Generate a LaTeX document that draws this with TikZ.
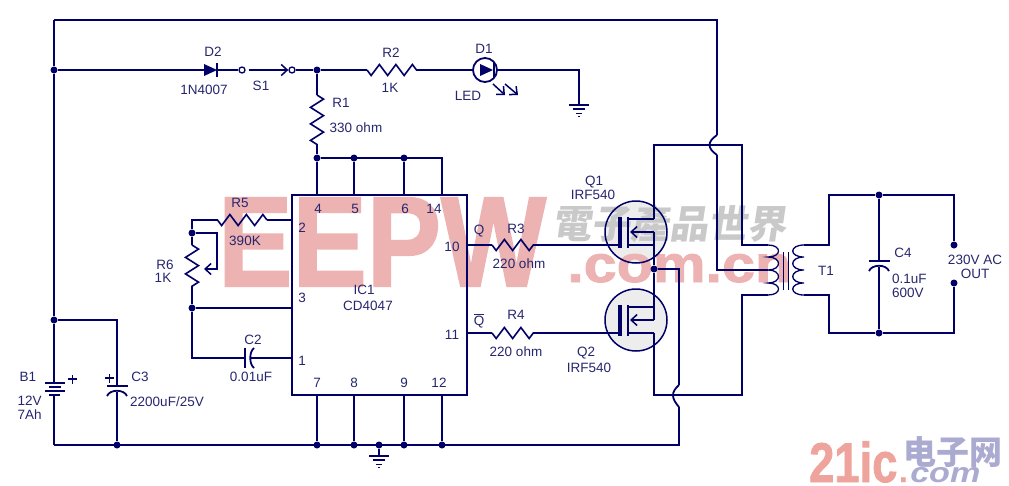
\documentclass[tikz,border=0pt]{standalone}
\usepackage{fontspec}
\setmainfont{Liberation Sans}
\newfontfamily\cjktc{Noto Sans CJK TC}
\newfontfamily\cjksc{Noto Sans CJK SC}
\newfontfamily\markfont[BoldFeatures={FakeBold=1.6}]{Liberation Sans}
\usepackage{tikz}
\usetikzlibrary{arrows.meta,decorations.pathmorphing,positioning}
\definecolor{navy}{HTML}{000066}
\definecolor{inktxt}{HTML}{26266E}
\definecolor{eepwpink}{HTML}{EDB2B2}
\definecolor{eepwgray}{HTML}{C9C9C9}
\definecolor{logopink}{HTML}{EEA49C}
\definecolor{logoblue}{HTML}{ABABD2}
\tikzset{
  wire/.style={draw=navy,line width=1.8pt,line join=miter},
  thin wire/.style={draw=navy,line width=1.3pt},
  dot/.style={circle,fill=navy,inner sep=0pt,minimum size=7pt},
  ring/.style={circle,draw=navy,line width=1.3pt,inner sep=0pt,minimum size=6pt},
  lbl/.style={text=inktxt,font=\fontsize{13.5}{13.5}\selectfont,inner sep=0pt,align=center},
  res/.style={wire,line width=1.6pt,decorate,decoration={zigzag,segment length=#1,amplitude=6.5pt}},
  res/.default=16.5pt,
  mres/.style={wire,line width=1.6pt,decorate,decoration={zigzag,mirror,segment length=16.5pt,amplitude=5.5pt}},
  barb/.style={-{Straight Barb[length=6pt,width=11pt,line width=1.5pt]}},
  gnd/.pic={
    \draw[thin wire] (-10,0) -- (10,0);
    \draw[thin wire] (-6,4) -- (6,4);
    \draw[thin wire,line width=1pt] (-3,8) -- (3,8);
    \draw[thin wire,line width=1pt] (-1,11) -- (1,11);
  },
  mosfet/.pic={
    \draw[thin wire,line width=1.5pt] (0,0) circle (31);
    \draw[wire,line width=4.5pt] (-16,-15) -- (-16,16);
    \draw[wire,line width=2.6pt] (-8,-15) -- (-8,16);
    \draw[wire] (-8,-13) -- (18,-13) coordinate (-d);
    \draw[wire] (-8,13) -- (18,13) coordinate (-s);
    \draw[wire,barb] (18,0) coordinate (-m) -- (-6,0);
    \coordinate (-g) at (-16,13);
  },
}
\begin{document}
\begin{tikzpicture}[x=1pt,y=-1pt]
  \useasboundingbox (0,0) rectangle (1009,485);

  % watermark
  \fill[gray!14] (636,232) circle (31);
  \fill[gray!14] (636,320) circle (31);
  \node[text=eepwpink,font=\fontsize{128}{128}\markfont\bfseries,xscale=.87,inner sep=0pt,anchor=base west] (w_eepw) at (218,286) {EEPW};
  \node[text=eepwpink,font=\fontsize{52}{52}\markfont\bfseries,xscale=1.14,inner sep=0pt,anchor=base west] (w_com) at (567,282) {.com.cn};
  \node[text=eepwgray,font=\fontsize{39}{39}\cjktc\bfseries,inner sep=0pt,xslant=.15,anchor=base west] (w_cn) at (552,238) {電子產品世界};
  \node[text=logopink,font=\fontsize{56}{56}\markfont\bfseries,xscale=.81,inner sep=0pt,anchor=base west] (w_ic) at (809,482) {21ic};
  \node[text=logoblue,font=\fontsize{33}{33}\cjksc\bfseries,inner sep=0pt,anchor=base west] (w_zh) at (903,464) {电子网};
  \node[text=logopink,font=\fontsize{30}{30}\markfont\bfseries,inner sep=0pt,anchor=base west] (w_dot) at (899,482) {.};
  \node[text=logoblue,font=\fontsize{28}{28}\selectfont\bfseries\itshape,xscale=1.22,inner sep=0pt,anchor=base west] (w_net) at (910,482) {com};

  % rails and junctions
  \coordinate (tl) at (54,20);
  \coordinate (tr) at (717,20);
  \coordinate (bl) at (54,445);
  \coordinate (br) at (679,445);
  \node[dot] (n_in) at (54,70) {};
  \node[dot] (n_c3) at (54,320) {};
  \node[dot] (n_r1) at (317,70) {};
  \node[dot] (n_vdd) at (317,158) {};
  \node[dot] (n_5) at (354,158) {};
  \node[dot] (n_6) at (404,158) {};
  \coordinate (n_14) at (442,158);
  \node[dot] (n_7) at (317,445) {};
  \node[dot] (n_8) at (354,445) {};
  \node[dot] (n_9) at (404,445) {};
  \node[dot] (n_12) at (442,445) {};
  \node[dot] (n_g) at (379,445) {};
  \node[dot] (n_c3b) at (117,445) {};
  \node[dot] (n_r6) at (192,233) {};
  \node[dot] (n_3) at (192,308) {};
  \node[dot] (n_mid) at (654,269) {};
  \node[dot] (n_c4t) at (879,195) {};
  \node[dot] (n_c4b) at (879,333) {};
  \node[dot] (n_ot) at (954,245) {};
  \node[dot] (n_ob) at (954,283) {};

  % IC1
  \node[draw=navy,line width=1.8pt,minimum width=175pt,minimum height=200pt,inner sep=0pt] (ic_1) at (379.5,295) {};
  \coordinate (p_2) at (ic_1.west |- 0,220);
  \coordinate (p_1) at (ic_1.west |- 0,358);
  \coordinate (p_3) at (ic_1.west |- n_3);
  \coordinate (p_10) at (ic_1.east |- 0,245);
  \coordinate (p_11) at (ic_1.east |- 0,333);

  % D2 and S1
  \node[ring] (s_a) at (242,70) {};
  \node[ring] (s_b) at (292,70) {};
  \coordinate (d2_a) at (204,70);
  \coordinate (d2_k) at (217,70);
  \path[wire] (n_in) -- (d2_a);
  \fill[navy] (d2_a) ++(0,-6) -- ++(13,6) -- ++(-13,6) -- cycle;
  \path[wire] (217,63) -- (217,77);
  \path[wire] (d2_k) -- (s_a);
  \draw[navy,line width=1.5pt,barb] (s_a.east) ++(3,0) -- (s_b.west);
  \path[wire] (s_b) -- (n_r1);

  % R2, D1 and the LED return
  \coordinate (r2_a) at (367,70);
  \coordinate (r2_b) at (418,70);
  \node[circle,draw=navy,line width=1.8pt,minimum size=24pt,inner sep=0pt] (d_1) at (485,70) {};
  \coordinate (gnd_a) at (579,105);
  \path[wire] (n_r1) -- (r2_a);
  \path[mres] (r2_a) -- (r2_b);
  \path[wire] (r2_b) -- (d_1);
  \fill[navy] (480,64) -- (493,70) -- (480,76) -- cycle;
  \path[wire] (494,62) -- (494,78);
  \path[wire] (d_1.east) -| (gnd_a);
  \pic at (gnd_a) {gnd};
  \draw[wire,barb,line width=1.5pt] (493,84) -- (505,95);
  \draw[wire,barb,line width=1.5pt] (505,84) -- (518,95);

  % R1 and the supply pins
  \coordinate (r1_a) at (317,95);
  \coordinate (r1_b) at (317,145);
  \path[wire] (n_r1) -- (r1_a);
  \path[res] (r1_a) -- (r1_b);
  \path[wire] (r1_b) -- (n_vdd) -- (n_vdd |- ic_1.north);
  \path[wire] (n_vdd) -- (n_14) -- (n_14 |- ic_1.north);
  \path[wire] (n_5) -- (n_5 |- ic_1.north);
  \path[wire] (n_6) -- (n_6 |- ic_1.north);

  % ground pins
  \path[wire] (n_7 |- ic_1.south) -- (n_7);
  \path[wire] (n_8 |- ic_1.south) -- (n_8);
  \path[wire] (n_9 |- ic_1.south) -- (n_9);
  \path[wire] (n_12 |- ic_1.south) -- (n_12);
  \coordinate (gnd_b) at (379,456);
  \path[wire] (n_g) -- (gnd_b);
  \pic at (gnd_b) {gnd};

  % timing network
  \coordinate (r5_a) at (217,220);
  \coordinate (r5_b) at (267,220);
  \coordinate (r6_a) at (192,245);
  \coordinate (r6_b) at (192,293);
  \coordinate (r6_w) at (217,269);
  \coordinate (c2_l) at (245,358);
  \coordinate (c2_r) at (249.5,358);
  \path[wire] (p_2) -- (r5_b);
  \path[mres] (r5_b) -- (r5_a);
  \path[wire] (r5_a) -| (n_r6);
  \path[wire] (n_r6) -- (r6_a);
  \path[res] (r6_a) -- (r6_b);
  \path[wire] (r6_b) -- (n_3) -- (p_3);
  \path[wire] (n_3) |- (c2_l);
  \path[wire] (c2_l |- 0,348) -- (c2_l |- 0,368);
  \path[wire] (254,348) .. controls (249,352) and (249,364) .. (254,368);
  \path[wire] (c2_r) -- (p_1);
  \draw[wire,barb] (n_r6) -| (r6_w) -- (204,269);

  % outputs and Q1, Q2
  \pic (q_1) at (636,232) {mosfet};
  \pic (q_2) at (636,320) {mosfet};
  \coordinate (r3_a) at (492,245);
  \coordinate (r3_b) at (541,245);
  \coordinate (r4_a) at (492,333);
  \coordinate (r4_b) at (541,333);
  \path[wire] (p_10) -- (r3_a);
  \path[mres] (r3_a) -- (r3_b);
  \path[wire] (r3_b) -- (q_1-g);
  \path[wire] (p_11) -- (r4_a);
  \path[mres] (r4_a) -- (r4_b);
  \path[wire] (r4_b) -- (q_2-g);

  % switching loop and transformer
  \coordinate (lp_tl) at (654,145);
  \coordinate (lp_tr) at (742,145);
  \coordinate (lp_bl) at (654,395);
  \coordinate (lp_br) at (742,395);
  \coordinate (t_pa) at (768,245);
  \coordinate (t_pc) at (768,270);
  \coordinate (t_pb) at (768,295);
  \coordinate (t_sa) at (804,245);
  \coordinate (t_sb) at (804,295);
  \coordinate (hop_a) at (717,135);
  \coordinate (hop_b) at (717,155);
  \coordinate (hop_c) at (679,385);
  \coordinate (hop_d) at (679,407);
  \path[wire] (q_1-d) -- (lp_tl) -- (lp_tr) -- (lp_tr |- t_pa) -- (t_pa);
  \path[wire] (q_1-m) -- (q_1-s) -- (n_mid) -- (q_2-d);
  \path[wire] (q_2-d) -- (q_2-m);
  \path[wire] (q_2-s) -- (lp_bl) -- (lp_br) -- (lp_br |- t_pb) -- (t_pb);
  \path[wire] (n_mid) -| (hop_c);
  \path[wire] (hop_c) .. controls (671,392) and (671,398) .. (hop_d);
  \path[wire] (hop_d) -- (br) -- (bl);
  \path[wire] (tl) -- (tr) -- (hop_a);
  \path[wire] (hop_a) .. controls (707,142) and (707,148) .. (hop_b);
  \path[wire] (hop_b) |- (t_pc);

  \draw[thin wire] (t_pa) .. controls (782,245) and (782,257) .. (768,257)
    .. controls (782,257) and (782,270) .. (t_pc)
    .. controls (782,270) and (782,283) .. (768,283)
    .. controls (782,283) and (782,295) .. (t_pb);
  \draw[thin wire] (t_sa) .. controls (789,245) and (789,257) .. (804,257)
    .. controls (789,257) and (789,270) .. (804,270)
    .. controls (789,270) and (789,283) .. (804,283)
    .. controls (789,283) and (789,295) .. (t_sb);
  \draw[navy,line width=1pt] (783,252) -- (783,290);
  \draw[navy,line width=1pt] (788,252) -- (788,290);

  % output side
  \coordinate (o_tl) at (829,195);
  \coordinate (o_bl) at (829,333);
  \coordinate (o_tr) at (954,195);
  \coordinate (o_br) at (954,333);
  \coordinate (c4_a) at (879,261);
  \coordinate (c4_b) at (879,267);
  \path[wire] (t_sa) -| (o_tl) -- (n_c4t) -- (o_tr) -- (n_ot);
  \path[wire] (t_sb) -| (o_bl) -- (n_c4b) -- (o_br) -- (n_ob);
  \path[wire] (n_c4t) -- (c4_a);
  \path[wire] (c4_b) -- (n_c4b);
  \path[wire] (869,261) -- (890,261);
  \path[wire] (869,271) .. controls (872,264) and (886,264) .. (889,271);

  % battery and C3
  \coordinate (b_a) at (54,383);
  \coordinate (b_b) at (54,395);
  \coordinate (c3_t) at (117,320);
  \coordinate (c3_a) at (117,386);
  \coordinate (c3_b) at (117,392);
  \path[wire] (tl) -- (n_in) -- (n_c3) -- (b_a);
  \path[wire] (b_b) -- (bl);
  \path[wire] (45,382.7) -- (65,382.7);
  \path[wire] (49,386.7) -- (61,386.7);
  \path[wire] (45,390.7) -- (65,390.7);
  \path[wire] (49,395) -- (60,395);
  \path[wire] (n_c3) -- (c3_t) -- (c3_a);
  \path[wire] (c3_b) -- (n_c3b);
  \path[wire] (107,386) -- (128,386);
  \path[wire] (107,396) .. controls (110,389) and (124,389) .. (127,396);
  \path[wire,line width=1.5pt] (68,379) -- (77,379) (72.5,375) -- (72.5,384);
  \path[wire,line width=1.5pt] (105,378) -- (114,378) (109.5,374) -- (109.5,383);

  % labels
  \node[lbl] (t_d2) at (213,52) {D2};
  \node[lbl] (t_d2v) at (204,90) {1N4007};
  \node[lbl] (t_s1) at (261,86) {S1};
  \node[lbl] (t_r1) at (341,103) {R1};
  \node[lbl] (t_r1v) at (356,128) {330 ohm};
  \node[lbl] (t_r2) at (391,53) {R2};
  \node[lbl] (t_r2v) at (390,88) {1K};
  \node[lbl] (t_d1) at (484,49) {D1};
  \node[lbl] (t_led) at (468,96) {LED};
  \node[lbl] (t_r5) at (240,203) {R5};
  \node[lbl] (t_r5v) at (245,241) {390K};
  \node[lbl] (t_r6) at (165,265) {R6};
  \node[lbl] (t_r6v) at (163,278) {1K};
  \node[lbl] (t_c2) at (253,340) {C2};
  \node[lbl] (t_c2v) at (251,377) {0.01uF};
  \node[lbl] (t_b1) at (28,377) {B1};
  \node[lbl,align=left,anchor=north west] (t_b1v) at (17.5,396) {12V\\[0pt]7Ah};
  \node[lbl] (t_c3) at (140,377) {C3};
  \node[lbl] (t_c3v) at (167,402) {2200uF/25V};
  \node[lbl] (t_ic) at (364,290) {IC1};
  \node[lbl] (t_icv) at (368,306) {CD4047};
  \node[lbl] (t_p4) at (318,209) {4};
  \node[lbl] (t_p5) at (355,209) {5};
  \node[lbl] (t_p6) at (405,209) {6};
  \node[lbl] (t_p14) at (434,209) {14};
  \node[lbl] (t_p2) at (302,228) {2};
  \node[lbl] (t_p3) at (302,298) {3};
  \node[lbl] (t_p1) at (302,361) {1};
  \node[lbl] (t_p7) at (317,383) {7};
  \node[lbl] (t_p8) at (354,383) {8};
  \node[lbl] (t_p9) at (404,383) {9};
  \node[lbl] (t_p12) at (439,383) {12};
  \node[lbl] (t_p10) at (452,247) {10};
  \node[lbl] (t_p11) at (452,335) {11};
  \node[lbl] (t_q) at (479,231) {Q};
  \node[lbl] (t_qn) at (479,321) {$\overline{\mbox{Q}}$};
  \node[lbl] (t_r3) at (516,229) {R3};
  \node[lbl] (t_r3v) at (519,264) {220 ohm};
  \node[lbl] (t_r4) at (516,315) {R4};
  \node[lbl] (t_r4v) at (516,352) {220 ohm};
  \node[lbl] (t_q1) at (594,182) {Q1};
  \node[lbl] (t_q1v) at (593,195) {IRF540};
  \node[lbl] (t_q2) at (586,353) {Q2};
  \node[lbl] (t_q2v) at (589,368) {IRF540};
  \node[lbl] (t_t1) at (826,271) {T1};
  \node[lbl] (t_c4) at (903,253) {C4};
  \node[lbl,align=left,anchor=west] (t_c4v) at (892,286) {0.1uF\\[1pt]600V};
  \node[lbl] (t_out) at (975,267) {230V AC\\[0pt]OUT};
\end{tikzpicture}
\end{document}
